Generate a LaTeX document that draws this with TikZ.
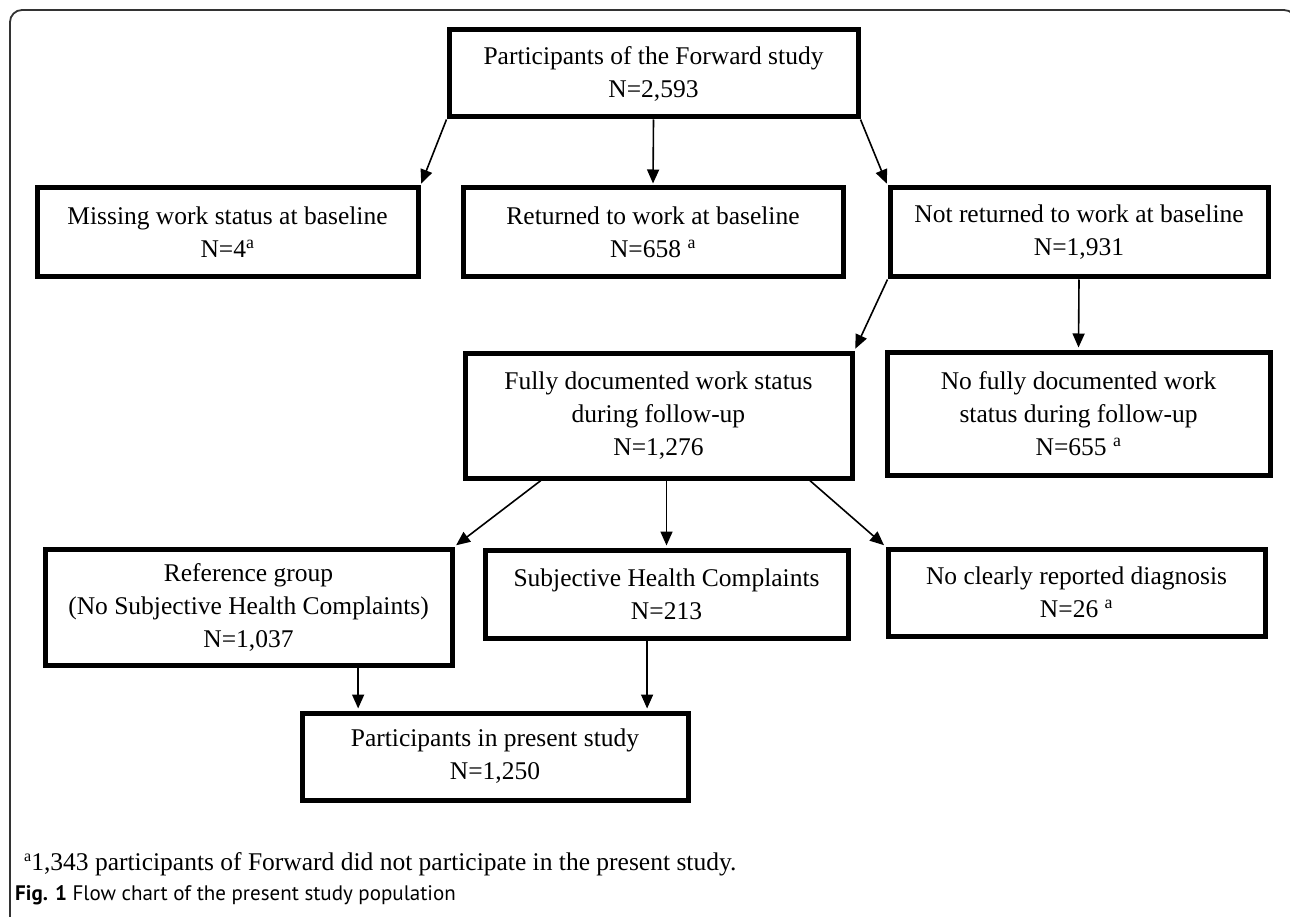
\documentclass[tikz,border=0pt]{standalone}
\usepackage{fontspec}
\setmainfont{Liberation Serif}
\newfontfamily\capfont{PT Sans}
\usetikzlibrary{arrows.meta,calc}

\begin{document}
\begin{tikzpicture}[x=1pt, y=-1pt,
    box/.style={draw, line width=5pt, align=center, inner sep=0pt, font=\fontsize{25.5}{33}\selectfont},
    arr/.style={line width=1.6pt, -{Triangle[length=14pt,width=12pt]}, shorten >=2pt}]
    \useasboundingbox (0,0) rectangle (1290,917);
    \clip (0,0) rectangle (1290,917);
    % outer frame
    \draw[line width=1.8pt, black!80, rounded corners=12pt] (10,10) rectangle (1296,932);

    % boxes
    \node[box, minimum width=409pt, minimum height=87pt] (forward) at (653.5,73.5) {Participants of the Forward study\\N=2,593};
    \node[box, minimum width=381pt, minimum height=89pt] (missing) at (227.5,232.5) {Missing work status at baseline\\N=4\textsuperscript{a}};
    \node[box, minimum width=380pt, minimum height=89pt] (returned) at (653,232.5) {Returned to work at baseline\\N=658 \textsuperscript{a}};
    \node[box, minimum width=378pt, minimum height=89pt] (notret) at (1079,232.5) {Not returned to work at baseline\\N=1,931};
    \node[box, minimum width=387pt, minimum height=125pt] (fully) at (658.5,415.5) {Fully documented work status\\during follow-up\\N=1,276};
    \node[box, minimum width=383pt, minimum height=123pt] (nofully) at (1078.5,413.5) {No fully documented work\\status during follow-up\\N=655 \textsuperscript{a}};
    \node[box, minimum width=407pt, minimum height=116pt] (refgrp) at (248.5,607) {Reference group\\(No Subjective Health Complaints)\\N=1,037};
    \node[box, minimum width=363pt, minimum height=88pt] (shc) at (666.5,594) {Subjective Health Complaints\\N=213};
    \node[box, minimum width=377pt, minimum height=87pt] (noclear) at (1076.5,592.5) {No clearly reported diagnosis\\N=26 \textsuperscript{a}};
    \node[box, minimum width=386pt, minimum height=87pt] (present) at (495,756.5) {Participants in present study\\N=1,250};

    % connectors
    \draw[arr] (forward.south west) -- (missing.north east);
    \draw[arr] (forward.south) -- (returned.north);
    \draw[arr] (forward.south east) -- (notret.north west);
    \draw[arr] (notret.south west) -- (fully.north east);
    \draw[arr] (notret.south) -- (nofully.north);
    \draw[arr] ($(fully.south west)!0.2!(fully.south east)$) -- (refgrp.north east);
    \draw[arr] (shc.north |- fully.south) -- (shc.north);
    \draw[arr] ($(fully.south west)!0.886!(fully.south east)$) -- (noclear.north west);
    \coordinate (inref) at ($(present.north west)!0.15!(present.north east)$);
    \coordinate (inshc) at ($(present.north west)!0.889!(present.north east)$);
    \draw[arr] (inref |- refgrp.south) -- (inref);
    \draw[arr] (inshc |- shc.south) -- (inshc);

    % footnote and caption
    \node[anchor=base west, inner sep=0pt, font=\fontsize{25.5}{30}\selectfont] (note) at (24,870) {{\fontsize{16}{20}\selectfont\raisebox{9pt}{a}}1,343 participants of Forward did not participate in the present study.};
    \node[anchor=base west, inner sep=0pt, font=\capfont\fontsize{21}{24}\selectfont] (caption) at (15,900) {\textbf{Fig. 1} Flow chart of the present study population};
\end{tikzpicture}
\end{document}
